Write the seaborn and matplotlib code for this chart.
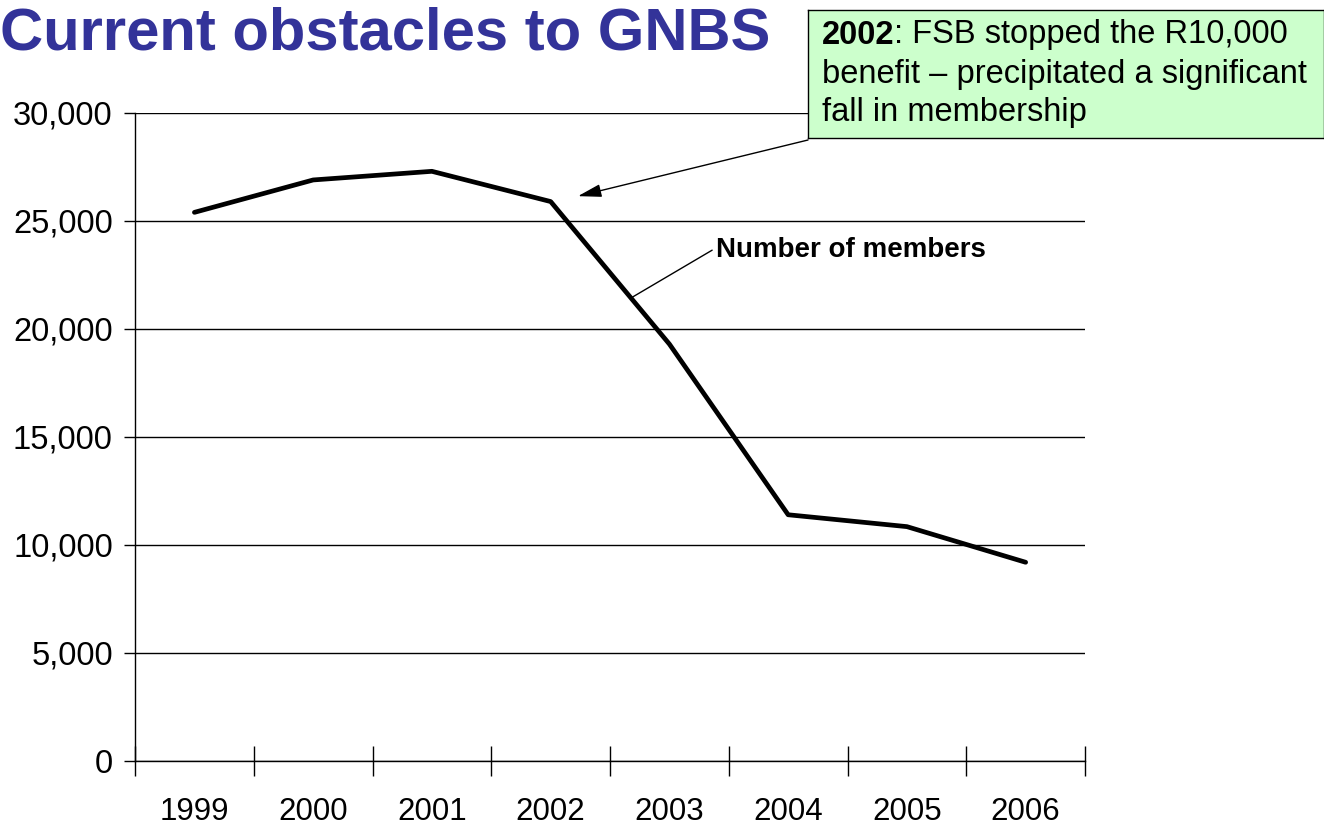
import matplotlib
matplotlib.use("Agg")
import matplotlib.pyplot as plt
import seaborn as sns
import pandas as pd

# Membership numbers
years = ["1999", "2000", "2001", "2002", "2003", "2004", "2005", "2006"]
members = [25400, 26900, 27300, 25900, 19300, 11400, 10850, 9200]
y_ticks = [0, 5000, 10000, 15000, 20000, 25000, 30000]

title_text = "Current obstacles to GNBS"
series_label = "Number of members"
note_year = "2002"
note_lines = [": FSB stopped the R10,000",
              "benefit \u2013 precipitated a significant",
              "fall in membership"]

sns.set_theme(style="white")
plt.rcParams["font.family"] = ["Liberation Sans", "DejaVu Sans"]
plt.rcParams["text.color"] = "black"
plt.rcParams["xtick.color"] = "black"
plt.rcParams["ytick.color"] = "black"

df = pd.DataFrame({"year": years, "members": members})

W, H = 1324, 826
fig = plt.figure(figsize=(W / 100, H / 100), dpi=100)
ax = fig.add_axes([0.102, 0.0787, 0.7175, 0.7845])

sns.lineplot(data=df, x="year", y="members", color="black", linewidth=3.4,
             sort=False, ax=ax)

# gridlines at each y tick
for v in y_ticks:
    ax.axhline(v, color="black", linewidth=1.0, zorder=0)

ax.set_xlim(-0.5, len(years) - 0.5)
ax.set_ylim(0, 30000)
ax.set_yticks(y_ticks)
ax.set_yticklabels([f"{v:,}" for v in y_ticks], fontsize=23.5)

# tick marks between categories, labels at the centres
ax.set_xticks([i - 0.5 for i in range(len(years) + 1)])
ax.set_xticklabels([])
ax.set_xticks(range(len(years)), minor=True)
ax.set_xticklabels(years, minor=True, fontsize=22.5)
ax.tick_params(axis="x", which="major", bottom=True, direction="inout",
               length=22, width=1, color="black")
ax.tick_params(axis="x", which="minor", bottom=True, length=0, pad=26)
ax.tick_params(axis="y", which="major", left=True, direction="out",
               length=8, width=1, color="black", pad=8)
ax.set_xlabel("")
ax.set_ylabel("")

for side in ["top", "right"]:
    ax.spines[side].set_visible(False)
for side in ["left", "bottom"]:
    ax.spines[side].set_color("black")
    ax.spines[side].set_linewidth(1.0)

fig.text(0.0, 1 - 50 / H, title_text, fontsize=43, fontweight="bold",
         color="#333399", va="baseline", ha="left")

# green note box
box_ax = fig.add_axes([808 / W, 1 - 138 / H, (W - 808) / W, 128 / H])
box_ax.set_xlim(0, 1)
box_ax.set_ylim(0, 1)
box_ax.set_facecolor("#ccffcc")
for s in box_ax.spines.values():
    s.set_color("black")
    s.set_linewidth(1.0)
box_ax.set_xticks([])
box_ax.set_yticks([])

line_y = [35, 75, 112]
t1 = fig.text(822 / W, 1 - line_y[0] / H, note_year, fontsize=23.5,
              fontweight="bold", va="center", ha="left")
fig.canvas.draw()
bb = t1.get_window_extent()
fig.text(bb.x1 / W, 1 - line_y[0] / H, note_lines[0], fontsize=23.5,
         va="center", ha="left")
for txt, yy in zip(note_lines[1:], line_y[1:]):
    fig.text(822 / W, 1 - yy / H, txt, fontsize=23.5, va="center", ha="left")

# arrow from the note to the 2002 point
ax.annotate("", xy=(3.23, 26150), xytext=(808 / W, 1 - 140 / H),
            textcoords="figure fraction",
            arrowprops=dict(arrowstyle="-|>,head_length=0.8,head_width=0.22",
                            color="black", lw=1.0, shrinkA=0, shrinkB=0,
                            mutation_scale=18))

# series label with leader line
ax.annotate("", xy=(3.69, 21480), xytext=(4.36, 23650),
            arrowprops=dict(arrowstyle="-", color="black", lw=1.0,
                            shrinkA=0, shrinkB=0))
ax.text(4.39, 23650, series_label, fontsize=20, fontweight="bold",
        va="center", ha="left")

fig.savefig("out.png", dpi=100)
